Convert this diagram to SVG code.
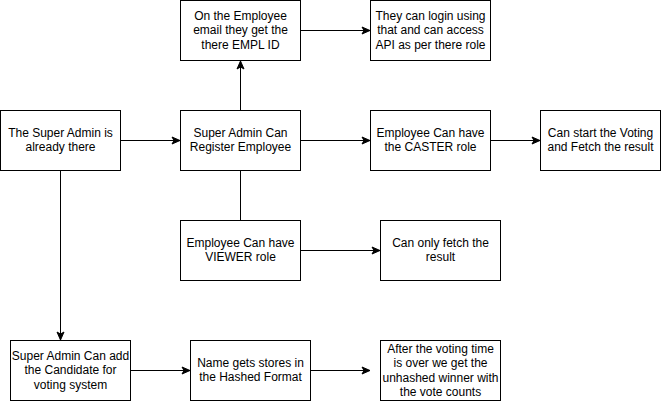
<svg xmlns="http://www.w3.org/2000/svg" width="661" height="402" viewBox="0 0 661 402">
<defs>
<style>
.box{fill:#ffffff;stroke:#000000;stroke-width:1}
.t{font-family:"Liberation Sans",Arial,Helvetica,sans-serif;font-size:12px;fill:#000000;text-anchor:middle}
.c{fill:none;stroke:#000000;stroke-width:1}
</style>
<marker id="arr" markerUnits="userSpaceOnUse" markerWidth="10" markerHeight="10" viewBox="0 0 10 10" refX="9" refY="5" orient="auto">
<path d="M1,1.5 L9,5 L1,8.5 L3,5 Z" fill="#000000" stroke="#000000" stroke-width="1"/>
</marker>
</defs>
<rect width="661" height="402" fill="#ffffff"/>
<g id="connectors">
<path class="c" d="M120.5,140.5 L180,140.5" marker-end="url(#arr)"/>
<path class="c" d="M300.5,140.5 L370,140.5" marker-end="url(#arr)"/>
<path class="c" d="M490.5,140.5 L540,140.5" marker-end="url(#arr)"/>
<path class="c" d="M240.5,110.5 L240.5,61" marker-end="url(#arr)"/>
<path class="c" d="M300.5,30.5 L370,30.5" marker-end="url(#arr)"/>
<path class="c" d="M240.5,170.5 L240.5,220.5"/>
<path class="c" d="M300.5,250.5 L380,250.5" marker-end="url(#arr)"/>
<path class="c" d="M60.5,170.5 L60.5,340" marker-end="url(#arr)"/>
<path class="c" d="M130.5,370.5 L190,370.5" marker-end="url(#arr)"/>
<path class="c" d="M310.5,370.5 L370,370.5" marker-end="url(#arr)"/>
</g>
<g id="n1">
<rect class="box" x="180.5" y="0.5" width="120" height="60"/>
<text class="t" x="240.5" y="19.9">On the Employee</text>
<text class="t" x="240.5" y="34.3">email they get the</text>
<text class="t" x="240.5" y="48.7">there EMPL ID</text>
</g>
<g id="n2">
<rect class="box" x="370.5" y="0.5" width="120" height="60"/>
<text class="t" x="430.5" y="19.9">They can login using</text>
<text class="t" x="430.5" y="34.3">that and can access</text>
<text class="t" x="430.5" y="48.7">API as per there role</text>
</g>
<g id="n3">
<rect class="box" x="0.5" y="110.5" width="120" height="60"/>
<text class="t" x="60.5" y="137">The Super Admin is</text>
<text class="t" x="60.5" y="151.4">already there</text>
</g>
<g id="n4">
<rect class="box" x="180.5" y="110.5" width="120" height="60"/>
<text class="t" x="240.5" y="137">Super Admin Can</text>
<text class="t" x="240.5" y="151.4">Register Employee</text>
</g>
<g id="n5">
<rect class="box" x="370.5" y="110.5" width="120" height="60"/>
<text class="t" x="430.5" y="137">Employee Can have</text>
<text class="t" x="430.5" y="151.4">the CASTER role</text>
</g>
<g id="n6">
<rect class="box" x="540.5" y="110.5" width="120" height="60"/>
<text class="t" x="600.5" y="137">Can start the Voting</text>
<text class="t" x="600.5" y="151.4">and Fetch the result</text>
</g>
<g id="n7">
<rect class="box" x="180.5" y="220.5" width="120" height="60"/>
<text class="t" x="240.5" y="247">Employee Can have</text>
<text class="t" x="240.5" y="261.4">VIEWER role</text>
</g>
<g id="n8">
<rect class="box" x="380.5" y="220.5" width="120" height="60"/>
<text class="t" x="440.5" y="247">Can only fetch the</text>
<text class="t" x="440.5" y="261.4">result</text>
</g>
<g id="n9">
<rect class="box" x="10.5" y="340.5" width="120" height="60"/>
<text class="t" x="70.5" y="359.9">Super Admin Can add</text>
<text class="t" x="70.5" y="374.3">the Candidate for</text>
<text class="t" x="70.5" y="388.7">voting system</text>
</g>
<g id="n10">
<rect class="box" x="190.5" y="340.5" width="120" height="60"/>
<text class="t" x="250.5" y="367">Name gets stores in</text>
<text class="t" x="250.5" y="381.4">the Hashed Format</text>
</g>
<g id="n11">
<rect class="box" x="380.5" y="340.5" width="120" height="60"/>
<text class="t" x="440.5" y="352.7">After the voting time</text>
<text class="t" x="440.5" y="367.1">is over we get the</text>
<text class="t" x="440.5" y="381.5">unhashed winner with</text>
<text class="t" x="440.5" y="395.9">the vote counts</text>
</g>
</svg>
